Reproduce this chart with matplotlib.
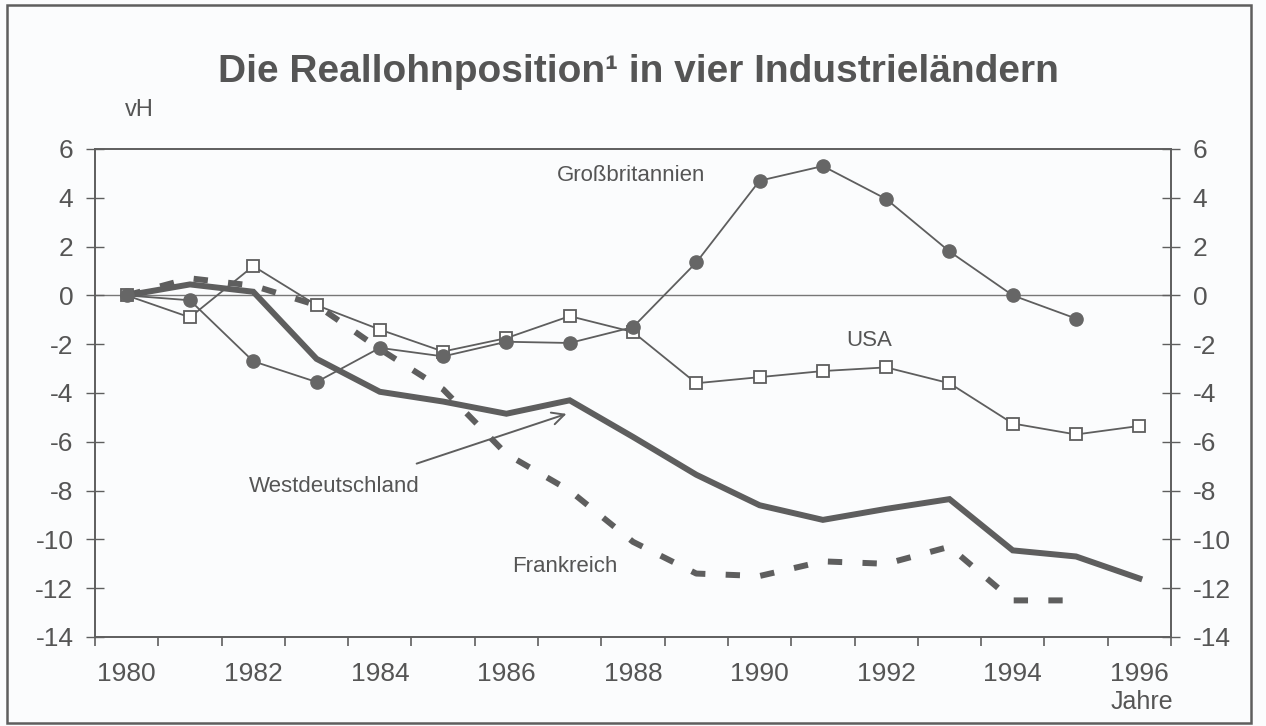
import matplotlib

matplotlib.use("Agg")
import matplotlib.pyplot as plt
import matplotlib.patches as mpatches
import numpy as np

plt.rcParams["font.family"] = ["Liberation Sans", "DejaVu Sans"]
plt.rcParams["axes.unicode_minus"] = False

# ── Data (vH, 1980 = 0) ───────────────────────────────────────────────────────
years = list(range(1980, 1997))
gb = [0.0, -0.2, -2.7, -3.55, -2.15, -2.5, -1.9, -1.95, -1.3, 1.35, 4.7, 5.3,
      3.95, 1.8, 0.0, -0.95, np.nan]
usa = [0.0, -0.9, 1.2, -0.4, -1.4, -2.3, -1.75, -0.85, -1.5, -3.6, -3.35, -3.1,
       -2.95, -3.6, -5.25, -5.7, -5.35]
west = [0.0, 0.45, 0.15, -2.6, -3.95, -4.35, -4.85, -4.3, -5.8, -7.35, -8.6,
        -9.2, -8.75, -8.35, -10.45, -10.7, -11.6]
frank = [0.0, 0.7, 0.4, -0.4, -2.2, -3.85, -6.5, -8.0, -10.1, -11.4, -11.5,
         -10.9, -11.0, -10.3, -12.5, -12.5, np.nan]
year_labels = [str(y) for y in years[::2]]
y_ticks = list(range(-14, 7, 2))

W, H = 1266, 726
INK = "#555555"
LINE = "#5e5e5e"
BG = "#fbfcfd"

fig = plt.figure(figsize=(W / 100, H / 100), dpi=100, facecolor=BG)
ax = fig.add_axes([95 / W, 1 - 637 / H, (1171 - 95) / W, (637 - 149) / H])
ax.set_facecolor(BG)

x = np.arange(len(years))

ax.axhline(0, color="#777777", lw=1.0, zorder=1)
ax.plot(x, frank, color=LINE, lw=4.3, dashes=(2.4, 3.4), solid_capstyle="butt",
        dash_capstyle="butt", zorder=2)
ax.plot(x, west, color=LINE, lw=4.3, solid_joinstyle="miter", zorder=3)
ax.plot(x, usa, color=LINE, lw=1.3, marker="s", ms=8, mfc="white",
        mec=LINE, mew=1.3, zorder=4)
ax.plot(x, gb, color=LINE, lw=1.3, marker="o", ms=9.5, mfc="#666666",
        mec="#666666", zorder=5)

ax.set_xlim(-0.5, len(years) - 0.5)
ax.set_ylim(-14, 6)

# category axis: tick marks between years, labels on every second year
ax.set_xticks(np.arange(-0.5, len(years), 1.0))
ax.set_xticklabels([])
ax.set_xticks(x[::2], minor=True)
ax.set_xticklabels(year_labels, minor=True)
ax.tick_params(axis="x", which="major", direction="out", length=6.5,
               width=1.2, color=LINE)
ax.tick_params(axis="x", which="minor", length=0, pad=18, labelsize=19,
               labelcolor=INK)

ax.set_yticks(y_ticks)
ax.tick_params(axis="y", direction="inout", length=13, width=1.0, color=LINE,
               labelsize=19, labelcolor=INK, pad=9, right=True, labelright=True)

for s in ax.spines.values():
    s.set_color(LINE)
    s.set_linewidth(1.4)

# ── Labels ───────────────────────────────────────────────────────────────────
lab = dict(color=INK, fontsize=16, va="center")
ax.text(6.8, 4.9, "Großbritannien", ha="left", **lab)
ax.text(11.73, -1.85, "USA", ha="center", **lab)
ax.text(1.93, -7.85, "Westdeutschland", ha="left", **lab)
ax.text(6.09, -11.13, "Frankreich", ha="left", **lab)
ax.annotate("", xy=(6.99, -4.82), xytext=(4.54, -6.93),
            arrowprops=dict(arrowstyle="->", color=LINE, lw=1.4,
                            mutation_scale=22))

fig.text(638 / W, 1 - 72 / H, "Die Reallohnposition¹ in vier Industrieländern",
         ha="center", va="center", fontsize=28, fontweight="bold", color=INK)
fig.text(125 / W, 1 - 110 / H, "vH", ha="left", va="center", fontsize=17,
         color=INK)
fig.text(1142 / W, 1 - 702 / H, "Jahre", ha="center", va="center",
         fontsize=18, color=INK)

fig.patches.append(mpatches.Rectangle((7 / W, 3 / H), (1251 - 7) / W,
                                      (722 - 4) / H, transform=fig.transFigure,
                                      fill=False, edgecolor=LINE, lw=1.8))

fig.savefig("out.png", dpi=100, facecolor=BG)
